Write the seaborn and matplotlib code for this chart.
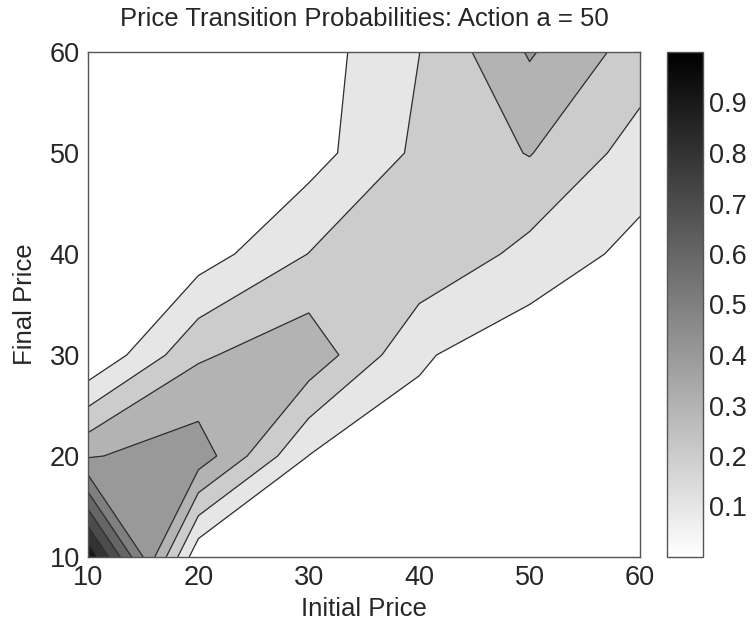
import numpy as np
import matplotlib
matplotlib.use("Agg")
import matplotlib.pyplot as plt
import seaborn as sns
from matplotlib.colors import Normalize
from matplotlib.cm import ScalarMappable

# ---- data ----
initial_price = [10, 20, 30, 40, 50, 60]
final_price = [10, 20, 30, 40, 50, 60]
# transition probability for each final price (row) over initial prices (columns)
p_final_10 = [0.98, 0.02, 0.00, 0.00, 0.00, 0.00]
p_final_20 = [0.39, 0.46, 0.098, 0.05, 0.02, 0.00]
p_final_30 = [0.00, 0.285, 0.37, 0.113, 0.03, 0.01]
p_final_40 = [0.00, 0.05, 0.202, 0.284, 0.17, 0.067]
p_final_50 = [0.00, 0.00, 0.057, 0.222, 0.305, 0.156]
p_final_60 = [0.00, 0.00, 0.046, 0.199, 0.41, 0.254]
levels = [0.0, 0.1, 0.2, 0.3, 0.4, 0.5, 0.6, 0.7, 0.8, 0.9, 1.0]
cbar_ticks = [0.1, 0.2, 0.3, 0.4, 0.5, 0.6, 0.7, 0.8, 0.9]

title = "Price Transition Probabilities: Action a = 50"
xlabel = "Initial Price"
ylabel = "Final Price"

sns.set_theme(style="white")
plt.rcParams["font.family"] = ["Liberation Sans", "DejaVu Sans"]

Z = np.array([p_final_10, p_final_20, p_final_30, p_final_40, p_final_50, p_final_60])
X, Y = np.meshgrid(initial_price, final_price)

W, H = 752, 627
fig = plt.figure(figsize=(W / 100, H / 100), dpi=100)
ax = fig.add_axes([88 / W, 1 - 557 / H, (640 - 88) / W, (557 - 52) / H])

cmap = sns.color_palette("gray_r", as_cmap=True)
fill_colors = [cmap(l) for l in levels[:-1]]
ax.contourf(X, Y, Z, levels=levels, colors=fill_colors)
ax.contour(X, Y, Z, levels=levels[1:-1], colors="#2e2e2e", linewidths=0.9)

ax.set_xlim(10, 60)
ax.set_ylim(10, 60)
ax.set_xticks(initial_price)
ax.set_yticks(final_price)
ax.tick_params(direction="in", top=True, right=True, length=5, width=0.8,
               color="#444444", labelsize=19.5, pad=6)
for s in ax.spines.values():
    s.set_color("#555555")
    s.set_linewidth(1.0)
ax.set_title(title, fontsize=18.5, pad=19)
ax.set_xlabel(xlabel, fontsize=18.5, labelpad=4)
ax.set_ylabel(ylabel, fontsize=18.5, labelpad=9)

cax = fig.add_axes([667 / W, 1 - 557 / H, 36 / W, (557 - 52) / H])
sm = ScalarMappable(norm=Normalize(0, 1), cmap=cmap)
cb = fig.colorbar(sm, cax=cax, ticks=cbar_ticks)
cb.ax.set_yticklabels([f"{t:.1f}" for t in cbar_ticks])
cb.outline.set_edgecolor("#555555")
cb.outline.set_linewidth(1.0)
cax.tick_params(direction="in", left=True, right=True, length=4, width=0.8,
                color="#444444", labelsize=19.5, pad=4)

fig.savefig("out.png", dpi=100)
